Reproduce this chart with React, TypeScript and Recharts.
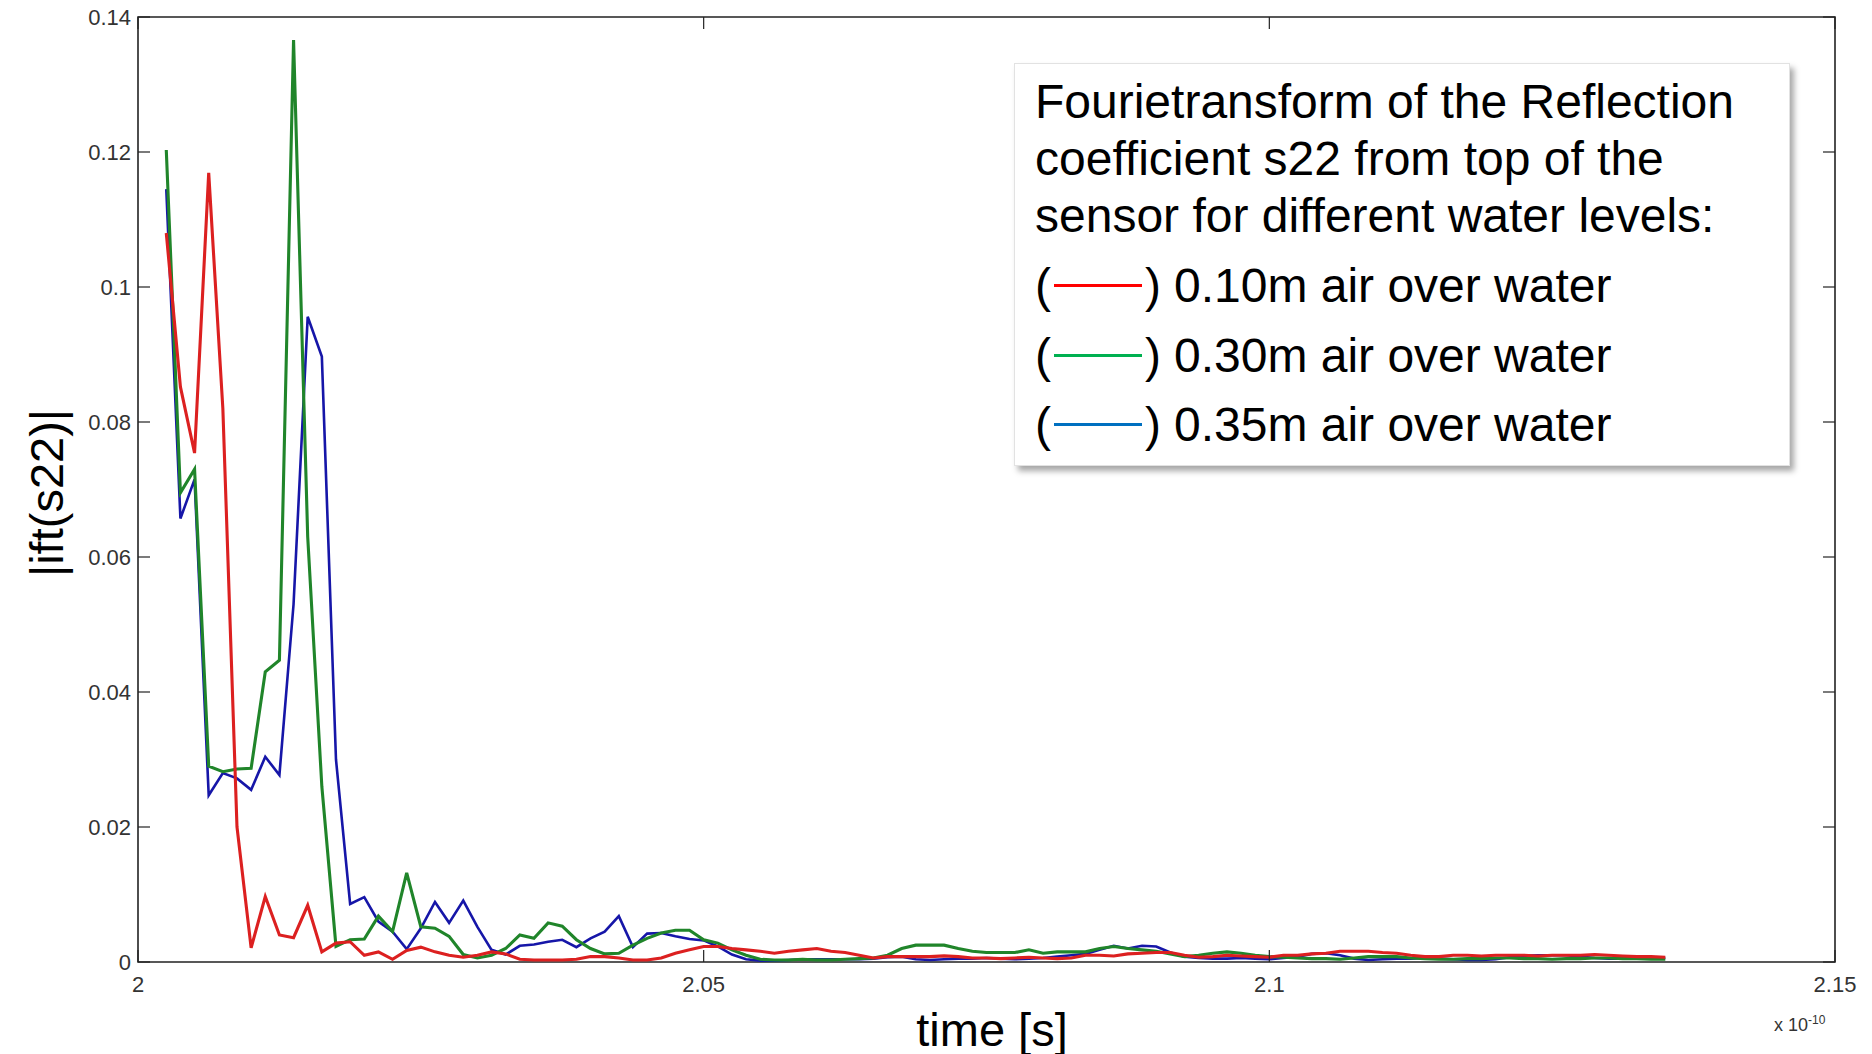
import { LineChart, Line, XAxis, YAxis, ReferenceArea } from "recharts";

// time axis in units of 1e-10 s, one sample every 0.00125
const T0 = 2.0025;
const DT = 0.00125;

const xTicks = [2, 2.05, 2.1, 2.15];
const xTickLabels = ["2", "2.05", "2.1", "2.15"];
const yTicks = [0, 0.02, 0.04, 0.06, 0.08, 0.1, 0.12, 0.14];
const yTickLabels = ["0", "0.02", "0.04", "0.06", "0.08", "0.1", "0.12", "0.14"];

// |ift(s22)| for 0.10m air over water
const red10 = [
  0.108, 0.0852, 0.0754, 0.1169, 0.082, 0.020, 0.0021, 0.0097, 0.0040, 0.0036,
  0.0084, 0.0015, 0.0028, 0.0030, 0.0010, 0.0015, 0.0004, 0.0017, 0.0022, 0.0015,
  0.0010, 0.0007, 0.0010, 0.0015, 0.0012, 0.0004, 0.0003, 0.0003, 0.0003, 0.0004,
  0.0008, 0.0008, 0.0006, 0.0003, 0.0003, 0.0006, 0.0013, 0.0018, 0.0023, 0.0023,
  0.0020, 0.0018, 0.0016, 0.0013, 0.0016, 0.0018, 0.0020, 0.0016, 0.0014, 0.0010,
  0.0006, 0.0008, 0.0008, 0.0008, 0.0008, 0.0009, 0.0008, 0.0006, 0.0006, 0.0005,
  0.0006, 0.0007, 0.0006, 0.0005, 0.0006, 0.0010, 0.0010, 0.0009, 0.0012, 0.0013,
  0.0014, 0.0014, 0.0010, 0.0007, 0.0008, 0.0010, 0.0009, 0.0008, 0.0007, 0.0010,
  0.0010, 0.0012, 0.0013, 0.0016, 0.0016, 0.0016, 0.0014, 0.0013, 0.0010, 0.0008,
  0.0008, 0.0010, 0.0010, 0.0009, 0.0010, 0.0010, 0.0010, 0.0009, 0.0010, 0.0010,
  0.0010, 0.0011, 0.0010, 0.0009, 0.0008, 0.0008, 0.0007,
];

// 0.30m air over water
const green30 = [
  0.1203, 0.0695, 0.0730, 0.0290, 0.0282, 0.0286, 0.0287, 0.0430, 0.0447, 0.1366,
  0.0630, 0.0260, 0.0023, 0.0033, 0.0034, 0.0068, 0.0045, 0.0132, 0.0052, 0.0050,
  0.0038, 0.0011, 0.0006, 0.0010, 0.0020, 0.0040, 0.0035, 0.0058, 0.0053, 0.0033,
  0.0020, 0.0012, 0.0013, 0.0025, 0.0035, 0.0043, 0.0047, 0.0047, 0.0033, 0.0028,
  0.0018, 0.0010, 0.0004, 0.0003, 0.0003, 0.0004, 0.0003, 0.0003, 0.0004, 0.0005,
  0.0006, 0.0010, 0.0020, 0.0025, 0.0025, 0.0025, 0.0020, 0.0016, 0.0014, 0.0014,
  0.0014, 0.0018, 0.0013, 0.0015, 0.0015, 0.0015, 0.0020, 0.0023, 0.0020, 0.0018,
  0.0016, 0.0012, 0.0008, 0.0010, 0.0013, 0.0015, 0.0013, 0.0010, 0.0008, 0.0007,
  0.0006, 0.0005, 0.0005, 0.0004, 0.0006, 0.0008, 0.0008, 0.0008, 0.0006, 0.0005,
  0.0004, 0.0004, 0.0005, 0.0005, 0.0006, 0.0006, 0.0005, 0.0005, 0.0004, 0.0005,
  0.0005, 0.0006, 0.0006, 0.0005, 0.0005, 0.0004, 0.0004,
];

// 0.35m air over water
const blue35 = [
  0.1145, 0.0657, 0.0715, 0.0247, 0.0280, 0.0272, 0.0255, 0.0304, 0.0277, 0.0530,
  0.0956, 0.0897, 0.0300, 0.0086, 0.0096, 0.0060, 0.0045, 0.0019, 0.0050, 0.0089,
  0.0058, 0.0091, 0.0052, 0.0018, 0.0011, 0.0024, 0.0026, 0.0030, 0.0033, 0.0022,
  0.0035, 0.0045, 0.0068, 0.0022, 0.0042, 0.0043, 0.0038, 0.0034, 0.0032, 0.0023,
  0.0011, 0.0004, 0.0002, 0.0002, 0.0003, 0.0004, 0.0004, 0.0004, 0.0004, 0.0004,
  0.0005, 0.0007, 0.0008, 0.0004, 0.0003, 0.0004, 0.0005, 0.0005, 0.0006, 0.0005,
  0.0004, 0.0005, 0.0006, 0.0008, 0.0010, 0.0012, 0.0018, 0.0024, 0.0020, 0.0024,
  0.0023, 0.0014, 0.0008, 0.0006, 0.0005, 0.0005, 0.0006, 0.0005, 0.0004, 0.0006,
  0.0008, 0.0012, 0.0013, 0.0010, 0.0005, 0.0003, 0.0004, 0.0005, 0.0005, 0.0006,
  0.0005, 0.0004, 0.0003, 0.0003, 0.0004, 0.0007, 0.0009, 0.0010, 0.0010, 0.0010,
  0.0008, 0.0006, 0.0005, 0.0005, 0.0006, 0.0006, 0.0006,
];

const data = red10.map((v, i) => ({
  t: T0 + i * DT,
  red: v,
  green: green30[i],
  blue: blue35[i],
}));

const PLOT_W = 1697;
const PLOT_H = 945;
const TICK_LEN = 12;
const tickFont = "'Liberation Sans Narrow', 'Liberation Sans', Arial, sans-serif";
const mainFont = "'Liberation Sans', Arial, sans-serif";

const legendItems = [
  { color: "#ff0000", label: "0.10m air over water" },
  { color: "#00b050", label: "0.30m air over water" },
  { color: "#0070c0", label: "0.35m air over water" },
];

const YTick = (props: any) => {
  const { x, y, payload } = props;
  const idx = yTicks.indexOf(payload.value);
  return (
    <g>
      <line x1={x} y1={y} x2={x + TICK_LEN} y2={y} stroke="#222" strokeWidth={1.2} />
      <line x1={x + PLOT_W - TICK_LEN} y1={y} x2={x + PLOT_W} y2={y} stroke="#222" strokeWidth={1.2} />
      <text x={x - 7} y={y + 8} textAnchor="end" fontSize={22} fontFamily={tickFont} fill="#333">
        {idx >= 0 ? yTickLabels[idx] : payload.value}
      </text>
    </g>
  );
};

const XTick = (props: any) => {
  const { x, y, payload } = props;
  const idx = xTicks.indexOf(payload.value);
  return (
    <g>
      <line x1={x} y1={y} x2={x} y2={y - TICK_LEN} stroke="#222" strokeWidth={1.2} />
      <line x1={x} y1={y - PLOT_H} x2={x} y2={y - PLOT_H + TICK_LEN} stroke="#222" strokeWidth={1.2} />
      <text x={x} y={y + 30} textAnchor="middle" fontSize={22} fontFamily={tickFont} fill="#333">
        {idx >= 0 ? xTickLabels[idx] : payload.value}
      </text>
    </g>
  );
};

export default function App() {
  return (
    <div style={{ position: "absolute", left: 0, top: 0, width: 1872, height: 1054, background: "#fff" }}>
      <LineChart width={1872} height={1054} data={data} margin={{ top: 17, right: 37, bottom: 0, left: 0 }}>
        <XAxis
          dataKey="t"
          type="number"
          domain={[2, 2.15]}
          ticks={xTicks}
          height={92}
          tickSize={0}
          tickMargin={0}
          tickLine={false}
          axisLine={false}
          tick={<XTick />}
          allowDataOverflow
        />
        <YAxis
          type="number"
          domain={[0, 0.14]}
          ticks={yTicks}
          width={138}
          tickSize={0}
          tickMargin={0}
          tickLine={false}
          axisLine={false}
          tick={<YTick />}
          allowDataOverflow
        />
        <ReferenceArea x1={2} x2={2.15} y1={0} y2={0.14} fill="none" stroke="#222" strokeWidth={1.6} />
        <Line type="linear" dataKey="blue" stroke="#1616a8" strokeWidth={2.6} dot={false} isAnimationActive={false} />
        <Line type="linear" dataKey="green" stroke="#20852a" strokeWidth={3.1} dot={false} isAnimationActive={false} />
        <Line type="linear" dataKey="red" stroke="#dc2020" strokeWidth={3.1} dot={false} isAnimationActive={false} />
      </LineChart>

      {/* axis titles */}
      <div
        style={{
          position: "absolute",
          left: 46,
          top: 493,
          transform: "translate(-50%, -50%) rotate(-90deg)",
          fontFamily: mainFont,
          fontSize: 47,
          whiteSpace: "nowrap",
          color: "#000",
        }}
      >
        |ift(s22)|
      </div>
      <div
        style={{
          position: "absolute",
          left: 992,
          top: 1029,
          transform: "translate(-50%, -50%)",
          fontFamily: mainFont,
          fontSize: 47,
          whiteSpace: "nowrap",
          color: "#000",
        }}
      >
        time [s]
      </div>
      <div
        style={{
          position: "absolute",
          left: 1774,
          top: 1013,
          fontFamily: tickFont,
          fontSize: 18,
          whiteSpace: "nowrap",
          color: "#333",
        }}
      >
        x 10<sup style={{ fontSize: 12 }}>-10</sup>
      </div>

      {/* legend box */}
      <div
        style={{
          position: "absolute",
          left: 1014,
          top: 63,
          width: 776,
          height: 403,
          boxSizing: "border-box",
          background: "#fff",
          border: "1px solid #e2e2e2",
          boxShadow: "4px 5px 6px rgba(0,0,0,0.35)",
          padding: "9px 0 0 20px",
          fontFamily: mainFont,
          fontSize: 48,
          color: "#000",
        }}
      >
        <div style={{ lineHeight: "57px", whiteSpace: "nowrap" }}>Fourietransform of the Reflection</div>
        <div style={{ lineHeight: "57px", whiteSpace: "nowrap" }}>coefficient s22 from top of the</div>
        <div style={{ lineHeight: "57px", whiteSpace: "nowrap" }}>sensor for different water levels:</div>
        <div style={{ marginTop: 7 }}>
          {legendItems.map((it) => (
            <div key={it.label} style={{ display: "flex", alignItems: "center", height: 69.5, whiteSpace: "nowrap" }}>
              <span>(</span>
              <span style={{ display: "inline-block", width: 88, height: 3, background: it.color, margin: "0 3px 0 3px" }} />
              <span>)</span>
              <span style={{ marginLeft: 13 }}>{it.label}</span>
            </div>
          ))}
        </div>
      </div>
    </div>
  );
}
